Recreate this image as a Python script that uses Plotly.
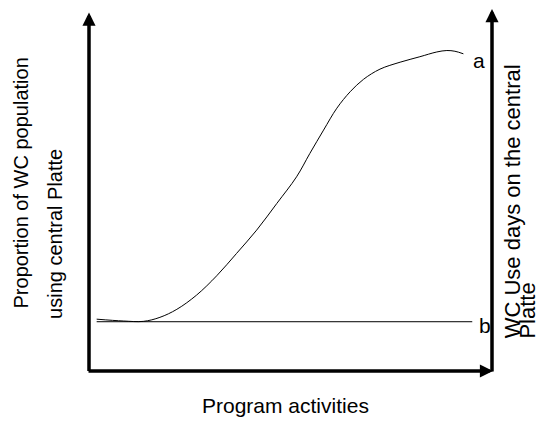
import plotly.graph_objects as go

# curve a: use of the central Platte as program activities grow
activity_a = [1.9, 8.5, 13.5, 17.6, 21.8, 26.7, 31.7, 36.6, 41.6, 46.6, 51.5, 54.8, 58.2,
              61.5, 64.8, 68.1, 72.2, 77.2, 82.1, 86.3, 88.8, 90.8, 92.9]
use_a = [14.2, 13.7, 13.6, 14.7, 16.9, 20.8, 26.1, 32.2, 38.6, 45.9, 53.2, 59.6, 66.0,
         72.0, 76.5, 79.9, 82.7, 84.6, 86.1, 87.4, 87.8, 87.6, 86.9]

# line b: flat baseline
activity_b = [1.9, 95.1]
use_b = [13.5, 13.5]

font = "Liberation Sans, Arial, sans-serif"

fig = go.Figure()

fig.add_trace(go.Scatter(
    x=activity_a, y=use_a, mode="lines",
    line=dict(color="black", width=1, shape="spline", smoothing=1),
    showlegend=False, hoverinfo="skip",
))
fig.add_trace(go.Scatter(
    x=activity_b, y=use_b, mode="lines",
    line=dict(color="black", width=1),
    showlegend=False, hoverinfo="skip",
))

# hand drawn style axes with arrowheads (paper refs so nothing gets hidden)
arrow = dict(showarrow=True, text="", arrowhead=2, arrowsize=0.75, arrowwidth=3.5,
             arrowcolor="black", xref="paper", yref="paper", axref="pixel", ayref="pixel", standoff=0)
fig.add_annotation(x=0, y=0.9876, ax=0, ay=360, **arrow)
fig.add_annotation(x=1.0025, y=0, ax=-406, ay=0, **arrow)
fig.add_annotation(x=1.0, y=1.0055, ax=0, ay=367, **arrow)

# labels at the line ends
fig.add_annotation(x=96.8, y=85.2, text="a", showarrow=False, xanchor="center", yanchor="middle",
                   font=dict(family=font, size=21, color="black"))
fig.add_annotation(x=98.3, y=12.6, text="b", showarrow=False, xanchor="center", yanchor="middle",
                   font=dict(family=font, size=21, color="black"))

# axis titles
left_font = dict(family=font, size=20, color="black")
right_font = dict(family=font, size=22, color="black")
fig.add_annotation(xref="paper", yref="paper", x=-0.169, y=0.519, xanchor="center", yanchor="middle",
                   text="Proportion of WC population", textangle=-90, showarrow=False, font=left_font)
fig.add_annotation(xref="paper", yref="paper", x=-0.085, y=0.377, xanchor="center", yanchor="middle",
                   text="using central Platte", textangle=-90, showarrow=False, font=left_font)
fig.add_annotation(xref="paper", yref="paper", x=0.488, y=-0.094, xanchor="center", yanchor="middle",
                   text="Program activities", showarrow=False, font=dict(family=font, size=21, color="black"))
fig.add_annotation(xref="paper", yref="paper", x=1.05, y=0.085, xanchor="center", yanchor="bottom",
                   text="WC Use days on the central", textangle=-90, showarrow=False, font=right_font)
fig.add_annotation(xref="paper", yref="paper", x=1.088, y=0.085, xanchor="center", yanchor="bottom",
                   text="Platte", textangle=-90, showarrow=False, font=right_font)

fig.update_xaxes(range=[0, 100], visible=False)
fig.update_yaxes(range=[0, 99.45], visible=False)
fig.update_layout(
    width=538, height=414,
    margin=dict(l=81, r=54, t=0, b=51),
    plot_bgcolor="white", paper_bgcolor="white",
    showlegend=False,
)

fig.write_html("out.html")
